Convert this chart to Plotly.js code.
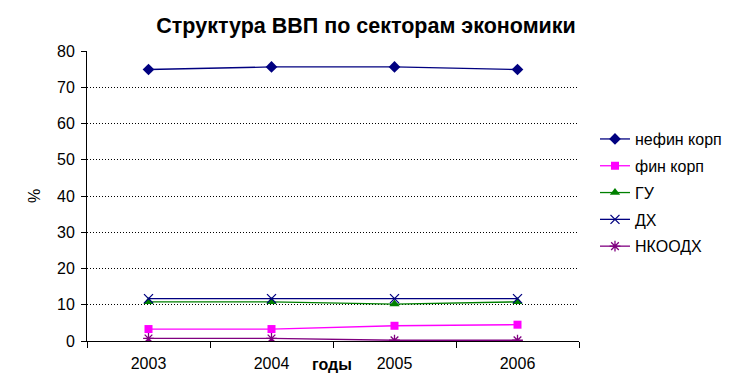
<!DOCTYPE html>
<html>
<head>
<meta charset="utf-8">
<script src="https://cdn.plot.ly/plotly-3.0.1.min.js"></script>
<style>html,body{margin:0;padding:0;background:#fff;}#chart{width:747px;height:389px;}</style>
</head>
<body>
<div id="chart"></div>
<script>
const years = ["2003", "2004", "2005", "2006"];
const nefinKorp = [74.9, 75.6, 75.6, 74.9];
const finKorp = [3.3, 3.3, 4.2, 4.5];
const gu = [10.8, 10.8, 10.2, 10.8];
const dh = [11.7, 11.7, 11.7, 11.7];
const nkoodh = [0.7, 0.7, 0.2, 0.2];
const yTicks = [0, 10, 20, 30, 40, 50, 60, 70, 80];

const font = "Liberation Sans, Arial, sans-serif";

function tr(name, y, color, symbol, size, mline, group) {
  return {
    type: "scatter", mode: "lines+markers", name: name, x: years, y: y,
    legendgroup: group,
    line: {color: color, width: 1.3},
    marker: {symbol: symbol, size: size, color: color, line: {color: color, width: mline}}
  };
}

const data = [
  tr("нефин корп", nefinKorp, "#000080", "diamond", 9, 0, "a"),
  tr("фин корп", finKorp, "#FF00FF", "square", 8, 0, "b"),
  tr("ГУ", gu, "#008000", "triangle-up", 9, 0, "c"),
  tr("ДХ", dh, "#000080", "x-thin-open", 9, 1.3, "d"),
  tr("НКООДХ", nkoodh, "#800080", "asterisk-open", 9, 1.3, "e")
];

const layout = {
  width: 747, height: 389,
  margin: {l: 87, r: 168, t: 51, b: 48},
  paper_bgcolor: "#fff", plot_bgcolor: "#fff",
  font: {family: font, size: 16, color: "#000"},
  title: {text: "<b>Структура ВВП по секторам экономики</b>", x: 0.49, xanchor: "center", y: 0.935, yanchor: "middle", font: {family: font, size: 21.5, color: "#000"}},
  xaxis: {
    type: "category", range: [-0.5, 3.5], tickson: "boundaries",
    ticks: "outside", ticklen: 6, tickcolor: "#000",
    showline: true, linecolor: "#000", linewidth: 1,
    showgrid: false, zeroline: false, ticklabelstandoff: 8,
    tickfont: {family: font, size: 16, color: "#000"}
  },
  yaxis: {
    range: [0, 80], tickvals: yTicks, ticktext: yTicks.map(String),
    ticks: "outside", ticklen: 5, tickcolor: "#000",
    showline: true, linecolor: "#000", linewidth: 1,
    showgrid: true, gridcolor: "#000", griddash: "1px,2px", gridwidth: 1,
    zeroline: false, ticklabelstandoff: 3,
    tickfont: {family: font, size: 16, color: "#000"},
    title: {text: "%", font: {family: font, size: 16, color: "#000"}, standoff: 12}
  },
  legend: {
    x: 1.0325, xanchor: "left", y: 0.755, yanchor: "top",
    font: {family: font, size: 16, color: "#000"},
    traceorder: "grouped", tracegroupgap: 3,
    bgcolor: "rgba(0,0,0,0)"
  },
  annotations: [{
    text: "<b>годы</b>", xref: "paper", yref: "paper", x: 0.497, y: -0.08,
    xanchor: "center", yanchor: "middle", showarrow: false,
    font: {family: font, size: 16, color: "#000"}
  }]
};

Plotly.newPlot("chart", data, layout, {displayModeBar: false, staticPlot: true});
</script>
</body>
</html>
